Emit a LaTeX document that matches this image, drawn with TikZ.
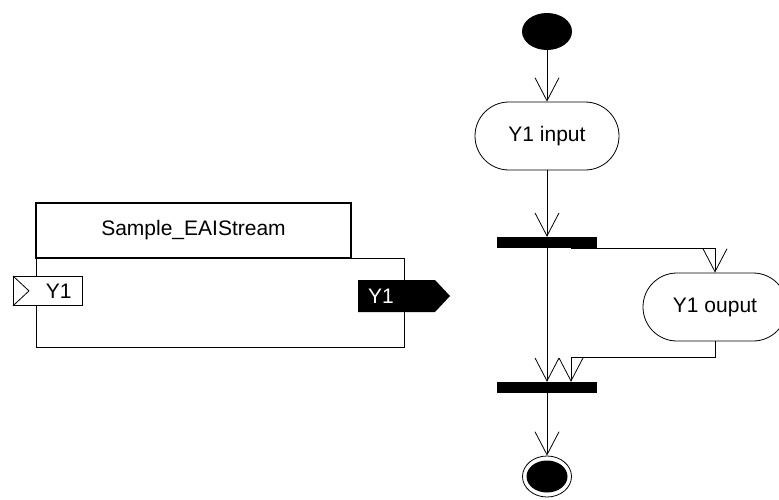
\documentclass[tikz,border=0pt]{standalone}
\usepackage{fontspec}
\setmainfont{Liberation Sans}
\usetikzlibrary{arrows.meta,shapes.geometric}
\begin{document}
\begin{tikzpicture}[x=1pt,y=-1pt,
  every node/.style={font=\fontsize{21}{25}\selectfont, inner sep=0pt},
  thinline/.style={line width=0.8pt},
  flow/.style={line width=0.8pt, -{Straight Barb[length=23pt,width=24pt]}},
  action/.style={draw, line width=0.8pt, rounded corners=33.9pt, minimum width=144pt, minimum height=68pt},
  bar/.style={fill=black, minimum width=100pt, minimum height=11pt},
]
\clip (0,0) rectangle (779,499);
\fill[white] (0,0) rectangle (779,499);

% ---- left block ----
\node[draw, thinline, minimum width=368pt, minimum height=89pt, anchor=north west] (block) at (36,258) {};
\node[draw, fill=white, line width=2.2pt, minimum width=315pt, minimum height=55pt] (title) at (193.5,230.5) {Sample\_EAIStream};
\node[draw, thinline, fill=white, minimum width=69pt, minimum height=29pt, anchor=north west] (inport) at (13,276) {};
\node[anchor=east] (inlbl) at ([xshift=-11pt]inport.east) {Y1};
\draw[thinline] (inport.north west) -- ([xshift=16pt]inport.west) -- (inport.south west);
\fill (358,280) -- (435,280) -- (450,296) -- (435,312) -- (358,312) -- cycle;
\node[text=white] (outlbl) at (381,296) {Y1};

% ---- activity diagram ----
\node[ellipse, fill=black, minimum width=50pt, minimum height=37pt] (start) at (547,31.5) {};
\node[action] (in) at (547,136) {Y1 input};
\node[bar] (fork) at (547,242.5) {};
\node[action] (out) at (715,307) {Y1 ouput};
\node[bar] (join) at (547,387.5) {};
\node[ellipse, draw, thinline, minimum width=49pt, minimum height=41pt] (end) at (547,476.5) {};
\node[ellipse, fill=black, minimum width=41pt, minimum height=32pt] (endin) at (end.center) {};
\coordinate (jy) at (571,357);

\draw[flow] (start) -- (in);
\draw[flow] (in) -- (fork);
\draw[flow] (fork) -- (join);
\draw[flow] ([xshift=24pt]fork.south) -- (out.north |- fork.south) -- (out);
\draw[flow] (out.south) |- (jy) -- ([xshift=24pt]join.north);
\draw[flow] (join) -- (end);
\end{tikzpicture}
\end{document}
